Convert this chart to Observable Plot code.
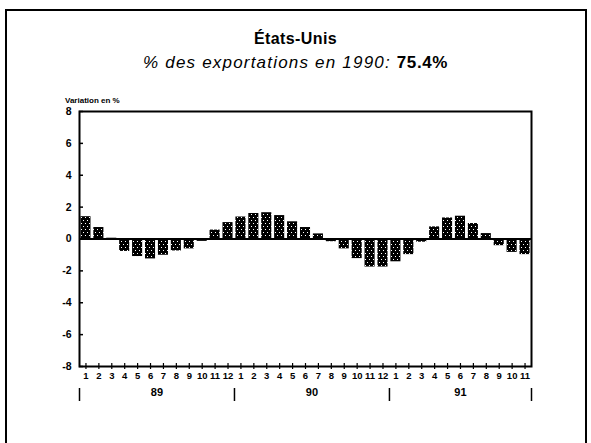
<!DOCTYPE html>
<html><head><meta charset="utf-8">
<script src="https://cdn.jsdelivr.net/npm/d3@7"></script>
<script src="https://cdn.jsdelivr.net/npm/@observablehq/plot@0.6"></script>
<style>
html,body{margin:0;padding:0;background:#fff;}
#wrap{position:relative;width:591px;height:443px;overflow:hidden;font-family:"Liberation Sans",Arial,sans-serif;color:#000;}
#border{position:absolute;left:5px;top:9px;width:582px;height:460px;border:2px solid #000;box-sizing:border-box;}
#title{position:absolute;left:0;width:591px;top:30px;text-align:center;font-weight:bold;font-size:16px;line-height:18px;letter-spacing:0.4px;}
#subtitle{position:absolute;left:0;width:591px;top:53px;text-align:center;font-style:italic;font-size:17px;line-height:19px;letter-spacing:1.2px;}
#subtitle b{font-style:normal;letter-spacing:0.6px;}
#ylabel{position:absolute;left:65px;top:96px;font-weight:bold;font-size:8px;line-height:10px;}
#chart{position:absolute;left:0;top:0;}
</style></head>
<body>
<div id="wrap">
  <div id="border"></div>
  <div id="title">États-Unis</div>
  <div id="subtitle">% des exportations en 1990: <b>75.4%</b></div>
  <div id="ylabel">Variation en %</div>
  <div id="chart"></div>
</div>
<script>
const years = ["89", "90", "91"];
const monthLabels = ["1","2","3","4","5","6","7","8","9","10","11","12"];
const values89 = [1.4, 0.72, 0.05, -0.78, -1.1, -1.25, -1.02, -0.75, -0.62, -0.15, 0.56, 1.03];
const values90 = [1.38, 1.6, 1.65, 1.47, 1.08, 0.72, 0.32, -0.17, -0.62, -1.23, -1.76, -1.76];
const values91 = [-1.43, -0.98, -0.2, 0.76, 1.32, 1.43, 0.97, 0.34, -0.42, -0.84, -0.98];
const yTicks = [-8, -6, -4, -2, 0, 2, 4, 6, 8];

const seriesByYear = [values89, values90, values91];
const rows = [];
seriesByYear.forEach((vals, yi) => {
  vals.forEach((v, mi) => rows.push({key: years[yi] + "-" + monthLabels[mi], month: monthLabels[mi], year: years[yi], value: v}));
});
const keys = rows.map(d => d.key);
const monthOf = Object.fromEntries(rows.map(d => [d.key, d.month]));
const yearStartKeys = years.map(y => y + "-1");
const lastKey = keys[keys.length - 1];
const yearLabelRows = years.map(y => {
  const ks = rows.filter(d => d.year === y).map(d => d.key);
  return {year: y, key: ks[Math.floor((ks.length - 1) / 2)], even: ks.length % 2 === 0};
});

const W = 591, H = 443, mL = 79, mR = 60, mT = 111, mB = 77;
const step = (W - mL - mR) / keys.length;

const plot = Plot.plot({
  width: W, height: H,
  marginLeft: mL, marginRight: mR, marginTop: mT, marginBottom: mB,
  style: {fontFamily: "Liberation Sans, Arial, sans-serif", fontWeight: "bold", fontSize: "9.5px", background: "transparent", color: "#000"},
  x: {type: "band", domain: keys, paddingInner: 0.22, paddingOuter: 0.11, label: null, axis: null},
  y: {domain: [-8, 8], label: null, axis: null},
  marks: [
    Plot.barY(rows, {x: "key", y: "value", fill: "url(#dots)"}),
    Plot.ruleY([0], {stroke: "#000", strokeWidth: 2}),
    Plot.frame({stroke: "#000", strokeWidth: 2}),
    Plot.axisY(yTicks, {tickSize: 0, tickPadding: 8, fontSize: 10.5, tickFormat: d => String(d), label: null}),
    Plot.axisY(yTicks, {tickSize: -4, tickFormat: () => "", label: null, strokeWidth: 1.5}),
    Plot.axisX(keys, {tickSize: 3, tickPadding: 3, tickFormat: k => monthOf[k], label: null, strokeWidth: 1.2, letterSpacing: -0.3}),
    Plot.axisX(keys, {tickSize: -3, tickFormat: () => "", label: null, strokeWidth: 1.2}),
    Plot.ruleX(yearStartKeys, {x: d => d, dx: -step / 2, insetTop: 277, insetBottom: -35, stroke: "#000", strokeWidth: 1.5}),
    Plot.ruleX([lastKey], {x: d => d, dx: step / 2, insetTop: 277, insetBottom: -35, stroke: "#000", strokeWidth: 1.5}),
    Plot.text(yearLabelRows.filter(d => d.even), {x: "key", text: "year", frameAnchor: "bottom", dx: step / 2, dy: 29, fontSize: 11}),
    Plot.text(yearLabelRows.filter(d => !d.even), {x: "key", text: "year", frameAnchor: "bottom", dy: 29, fontSize: 11})
  ]
});

const ns = "http://www.w3.org/2000/svg";
const defs = document.createElementNS(ns, "defs");
const pat = document.createElementNS(ns, "pattern");
pat.setAttribute("id", "dots");
pat.setAttribute("width", "4");
pat.setAttribute("height", "6");
pat.setAttribute("patternUnits", "userSpaceOnUse");
const bg = document.createElementNS(ns, "rect");
bg.setAttribute("width", "4"); bg.setAttribute("height", "6"); bg.setAttribute("fill", "#000");
pat.appendChild(bg);
[[1, 1], [3, 4]].forEach(([x, y]) => {
  const r = document.createElementNS(ns, "rect");
  r.setAttribute("x", x); r.setAttribute("y", y); r.setAttribute("width", "1"); r.setAttribute("height", "1"); r.setAttribute("fill", "#fff");
  pat.appendChild(r);
});
defs.appendChild(pat);
plot.insertBefore(defs, plot.firstChild);
document.getElementById("chart").appendChild(plot);
</script>
</body></html>
